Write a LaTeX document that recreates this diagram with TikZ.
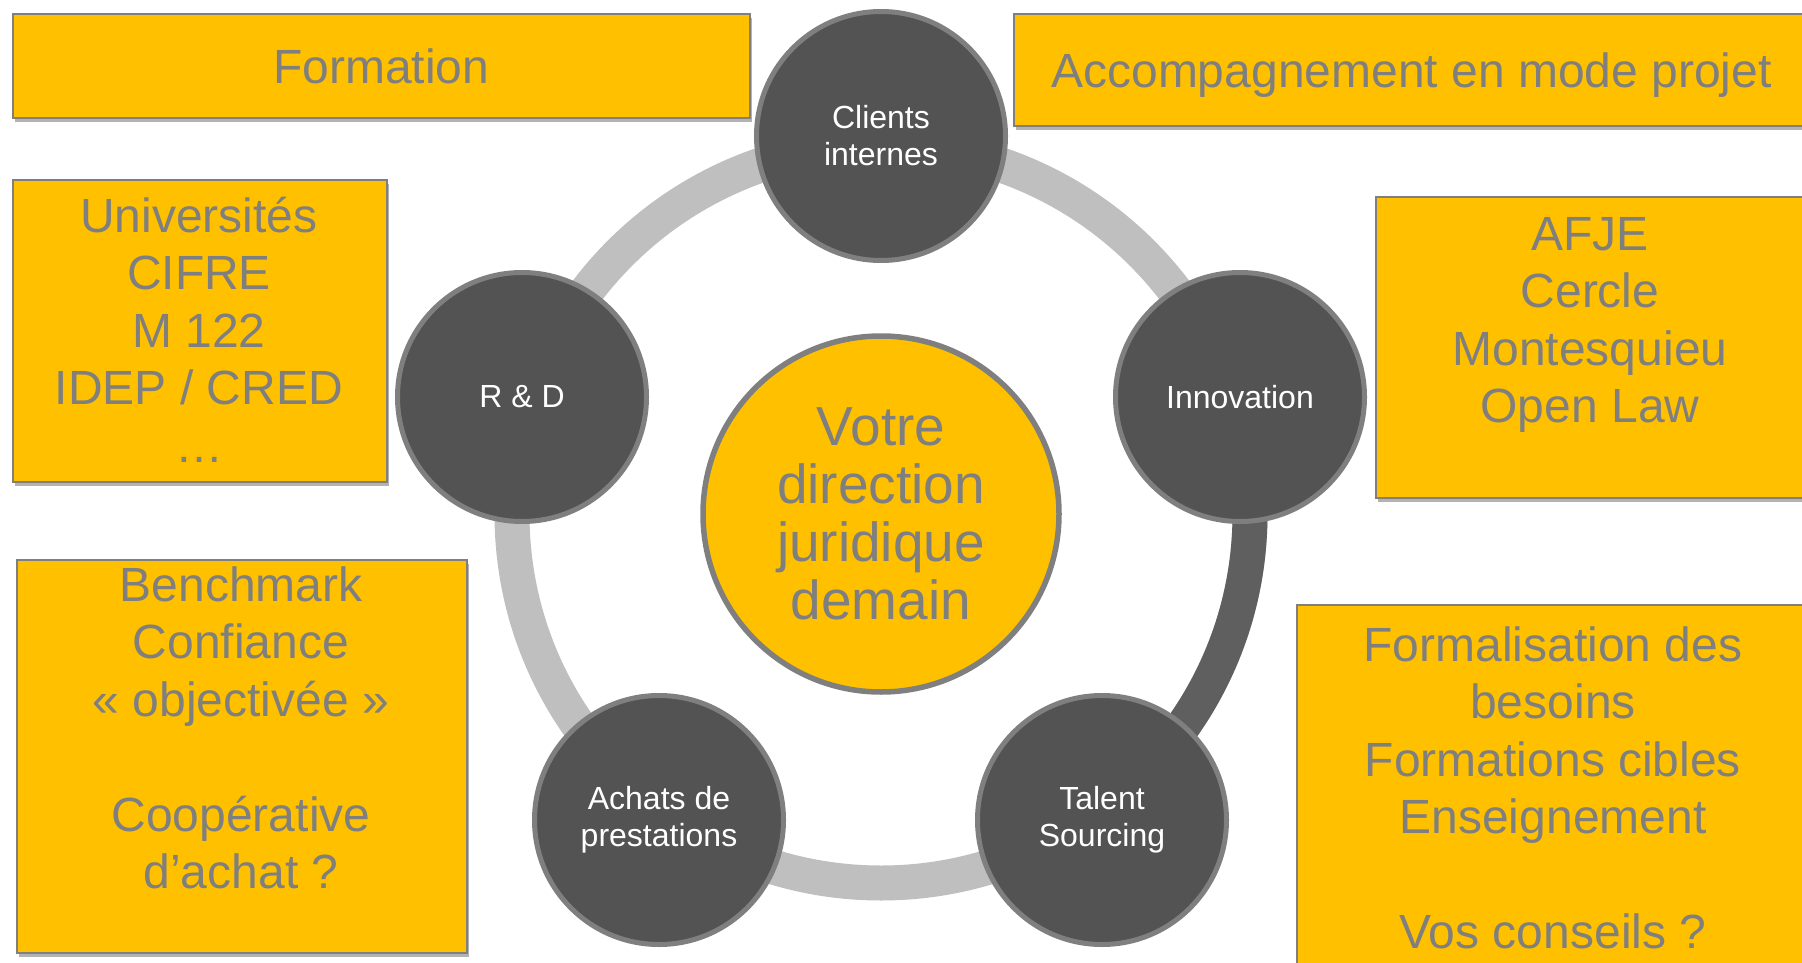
\documentclass[tikz,border=0pt]{standalone}
\usepackage{fontspec}
\setmainfont{Liberation Sans}
\usetikzlibrary{shadows,calc,backgrounds}
\definecolor{gold}{HTML}{FFC000}
\definecolor{txtgray}{HTML}{7F7F7F}
\definecolor{nodegray}{HTML}{535353}
\definecolor{ringlight}{HTML}{BFBFBF}
\definecolor{ringdark}{HTML}{5F5F5F}
\begin{document}
\begin{tikzpicture}[x=1pt,y=-1pt,
  box/.style={draw=txtgray, line width=2pt, fill=gold, inner sep=0pt,
    drop shadow={shadow xshift=2pt, shadow yshift=-4pt, opacity=0.3, fill=black}},
  onebox/.style={box, text=txtgray, font=\fontsize{48}{57.5}\selectfont, text height=34.4pt, text depth=0pt},
  boxtext/.style={text=txtgray, align=center, inner sep=0pt, font=\fontsize{48}{57.5}\selectfont},
  hub/.style={circle, draw=txtgray, line width=5pt, fill=nodegray, minimum size=249pt,
    inner sep=0pt, text=white, align=center, font=\fontsize{32}{37}\selectfont},
  core/.style={circle, draw=txtgray, line width=5.5pt, fill=gold, minimum size=356pt,
    inner sep=0pt, text=txtgray, align=center, font=\fontsize{55}{58}\selectfont},
  ringline/.style={line width=35pt}
]
\useasboundingbox (0,0) rectangle (1802,963);

% boxes
\node[onebox, anchor=north west, minimum width=737.5pt, minimum height=104pt] (formation) at (11.5,13) {Formation};
\node[onebox, anchor=north west, minimum width=795pt, minimum height=112pt] (accomp) at (1013,13) {Accompagnement en mode projet};
\node[box, anchor=north west, minimum width=374.5pt, minimum height=302pt] (univ) at (11.5,179) {};
\node[box, anchor=north west, minimum width=432pt, minimum height=301pt] (afje) at (1375,196) {};
\node[box, anchor=north west, minimum width=450.5pt, minimum height=393pt] (bench) at (15.5,559) {};
\node[box, anchor=north west, minimum width=514pt, minimum height=380pt] (formal) at (1296,604) {};

\node[boxtext, anchor=north] (univtxt) at (199,184) {\rule{0pt}{48pt}Universités\\CIFRE\\M 122\\IDEP / CRED\\…};
\node[boxtext, anchor=north] (afjetxt) at (1590,202) {\rule{0pt}{48pt}AFJE\\Cercle\\Montesquieu\\Open Law};
\node[boxtext, anchor=north] (benchtxt) at (241,553) {\rule{0pt}{48pt}Benchmark\\Confiance\\« objectivée »\\\mbox{}\\Coopérative\\d’achat ?};
\node[boxtext, anchor=north] (formaltxt) at (1553,613) {\rule{0pt}{48pt}Formalisation des\\besoins\\Formations cibles\\Enseignement\\\mbox{}\\Vos conseils ?};

% circles
\node[core] (core) at (881,514) {Votre\\direction\\juridique\\demain};
\node[hub] (clients) at (881,136) {Clients\\internes};
\node[hub] (rd) at (522,397) {R \& D};
\node[hub] (innov) at (1240,397) {Innovation};
\node[hub] (achats) at (659,820) {Achats de\\prestations};
\node[hub] (talent) at (1102,820) {Talent\\Sourcing};

% ring
\begin{scope}[on background layer]
  \draw[ringlight, ringline] (core.center) circle[radius=369];
  \begin{scope}
    \clip (core.center) -- ($(core.center)!3!(innov.center)$) -- ($(core.center)!3!(talent.center)$) -- cycle;
    \draw[ringdark, ringline] (core.center) circle[radius=369];
  \end{scope}
\end{scope}
\end{tikzpicture}
\end{document}
